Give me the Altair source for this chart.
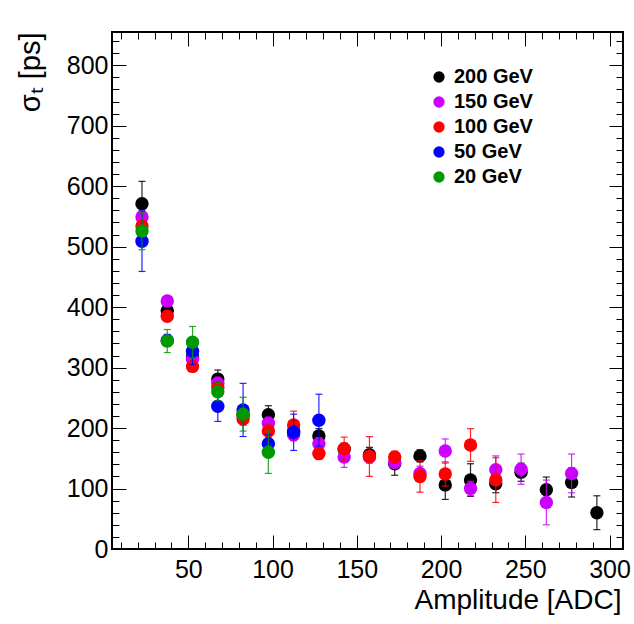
import altair as alt
import pandas as pd

# ---- data ----
amplitude = [22.5, 37.5, 52.5, 67.5, 82.5, 97.5, 112.5, 127.5, 142.5, 157.5,
             172.5, 187.5, 202.5, 217.5, 232.5, 247.5, 262.5, 277.5, 292.5]

series_names = ["200 GeV", "150 GeV", "100 GeV", "50 GeV", "20 GeV"]
series_colors = ["#000000", "#cc00ff", "#ff0000", "#0000ff", "#009900"]

sigma_200 = [571, 394, 318, 281, 222, 222, 195, 187, 165, 156, 141, 154, 106, 114, 108, 127, 98, 110, 60]
err_200 = [37, 8, 8, 15, 10, 15, 10, 12, 10, 12, 19, 10, 24, 27, 15, 15, 21, 24, 28]

sigma_150 = [549, 410, 314, 274, 220, 208, 189, 174, 152, 152, 143, 125, 162, 100, 131, 132, 77, 125]
err_150 = [10, 8, 8, 10, 10, 10, 10, 10, 17, 10, 10, 12, 20, 12, 23, 25, 37, 32]

sigma_100 = [534, 385, 302, 267, 215, 195, 205, 158, 166, 153, 152, 120, 124, 172, 114]
err_100 = [10, 8, 8, 10, 10, 10, 23, 10, 19, 33, 10, 26, 20, 27, 37]

sigma_50 = [509, 345, 327, 236, 230, 174, 193, 213]
err_50 = [50, 10, 22, 25, 44, 15, 30, 43]

sigma_20 = [526, 344, 342, 260, 223, 160]
err_20 = [31, 19, 26, 15, 28, 35]

x_label_values = [50, 100, 150, 200, 250, 300]
y_label_values = [0, 100, 200, 300, 400, 500, 600, 700, 800]
x_tick_values = list(range(10, 301, 10))
y_tick_values = list(range(0, 841, 20))

# ---- build table ----
rows = []
for name, vals, errs in zip(series_names,
                            [sigma_200, sigma_150, sigma_100, sigma_50, sigma_20],
                            [err_200, err_150, err_100, err_50, err_20]):
    for a, v, e in zip(amplitude, vals, errs):
        rows.append({"amp": a, "sigma": v, "lo": v - e, "hi": v + e, "beam": name})
df = pd.DataFrame(rows)

W, H = 511, 517
FONT = "Liberation Sans"
xscale = alt.Scale(domain=[4.7, 308], nice=False, zero=False)
yscale = alt.Scale(domain=[0, 855], nice=False, zero=False)
cscale = alt.Scale(domain=series_names, range=series_colors)

x_tick_len = alt.condition("datum.value % 50 === 0", alt.value(14), alt.value(7))
y_tick_len = alt.condition("datum.value % 100 === 0", alt.value(14), alt.value(7))

# label axes
x_axis_labels = alt.Axis(orient="bottom", values=x_label_values, ticks=False, tickSize=0,
                         domain=False, grid=False, labelFontSize=25, labelFont=FONT,
                         labelColor="black", labelPadding=8, labelFlush=False,
                         labelOverlap=False, title="Amplitude [ADC]", titleFont=FONT,
                         titleFontSize=28, titleFontWeight="normal", titleColor="black",
                         titleAnchor="end", titleAlign="right", titleX=509, titleY=59,
                         titleBaseline="alphabetic")
y_axis_labels = alt.Axis(orient="left", values=y_label_values, ticks=False, tickSize=0,
                         domain=False, grid=False, labelFontSize=25, labelFont=FONT,
                         labelColor="black", labelPadding=4, labelOverlap=False,
                         title="σₜ [ps]", titleFont=FONT, titleFontSize=29,
                         titleFontWeight="normal", titleColor="black", titleAngle=270,
                         titleX=-73, titleY=0, titleAlign="right",
                         titleBaseline="alphabetic", titleAnchor="end")

# inward tick axes (bottom+left frame)
x_axis_ticks_bottom = alt.Axis(orient="top", offset=-H, values=x_tick_values, labels=False,
                               domain=False, grid=False, tickSize=x_tick_len,
                               tickColor="black", tickWidth=1, title=None)
y_axis_ticks_left = alt.Axis(orient="right", offset=-W, values=y_tick_values, labels=False,
                             domain=False, grid=False, tickSize=y_tick_len,
                             tickColor="black", tickWidth=1, title=None)
# inward tick axes (top+right frame)
x_axis_ticks_top = alt.Axis(orient="bottom", offset=-H, values=x_tick_values, labels=False,
                            domain=False, grid=False, tickSize=x_tick_len,
                            tickColor="black", tickWidth=1, title=None)
y_axis_ticks_right = alt.Axis(orient="left", offset=-W, values=y_tick_values, labels=False,
                              domain=False, grid=False, tickSize=y_tick_len,
                              tickColor="black", tickWidth=1, title=None)

legend = alt.Legend(title=None, orient="none", legendX=317, legendY=35,
                    symbolType="circle", symbolSize=127, symbolStrokeWidth=0,
                    symbolOpacity=1, labelFontSize=20, labelFontWeight="bold",
                    labelFont=FONT, labelColor="black", labelOffset=5,
                    rowPadding=5, padding=0)

base = alt.Chart(df)
layers = []
for i, (name, col) in enumerate(zip(series_names, series_colors)):
    first = i == 0
    sub = base.transform_filter(alt.datum.beam == name)
    rules = sub.mark_rule(strokeWidth=1.2, opacity=0.85, color=col).encode(
        x=alt.X("amp:Q", scale=xscale, axis=x_axis_labels if first else None),
        y=alt.Y("lo:Q", scale=yscale, axis=y_axis_labels if first else None),
        y2="hi:Q",
    )
    caps = sub.transform_fold(["lo", "hi"], as_=["end", "v"]).mark_tick(
        orient="horizontal", size=7, thickness=1.2, opacity=0.85, color=col
    ).encode(
        x=alt.X("amp:Q", scale=xscale, axis=x_axis_ticks_bottom if first else None),
        y=alt.Y("v:Q", scale=yscale, axis=y_axis_ticks_left if first else None),
    )
    points = sub.mark_circle(size=180, opacity=1).encode(
        x=alt.X("amp:Q", scale=xscale, axis=x_axis_ticks_top if first else None),
        y=alt.Y("sigma:Q", scale=yscale, axis=y_axis_ticks_right if first else None),
        color=alt.Color("beam:N", scale=cscale, legend=legend),
    )
    layers += [rules, caps, points]

chart = alt.layer(*layers).resolve_axis(
    x="independent", y="independent"
).properties(
    width=W, height=H,
    autosize=alt.AutoSizeParams(type="none"),
    padding={"left": 112, "top": 32, "right": 11, "bottom": 75},
).configure(font=FONT).configure_view(stroke="black", strokeWidth=2)

chart.save("out.html", embed_options={"renderer": "svg", "actions": False})
